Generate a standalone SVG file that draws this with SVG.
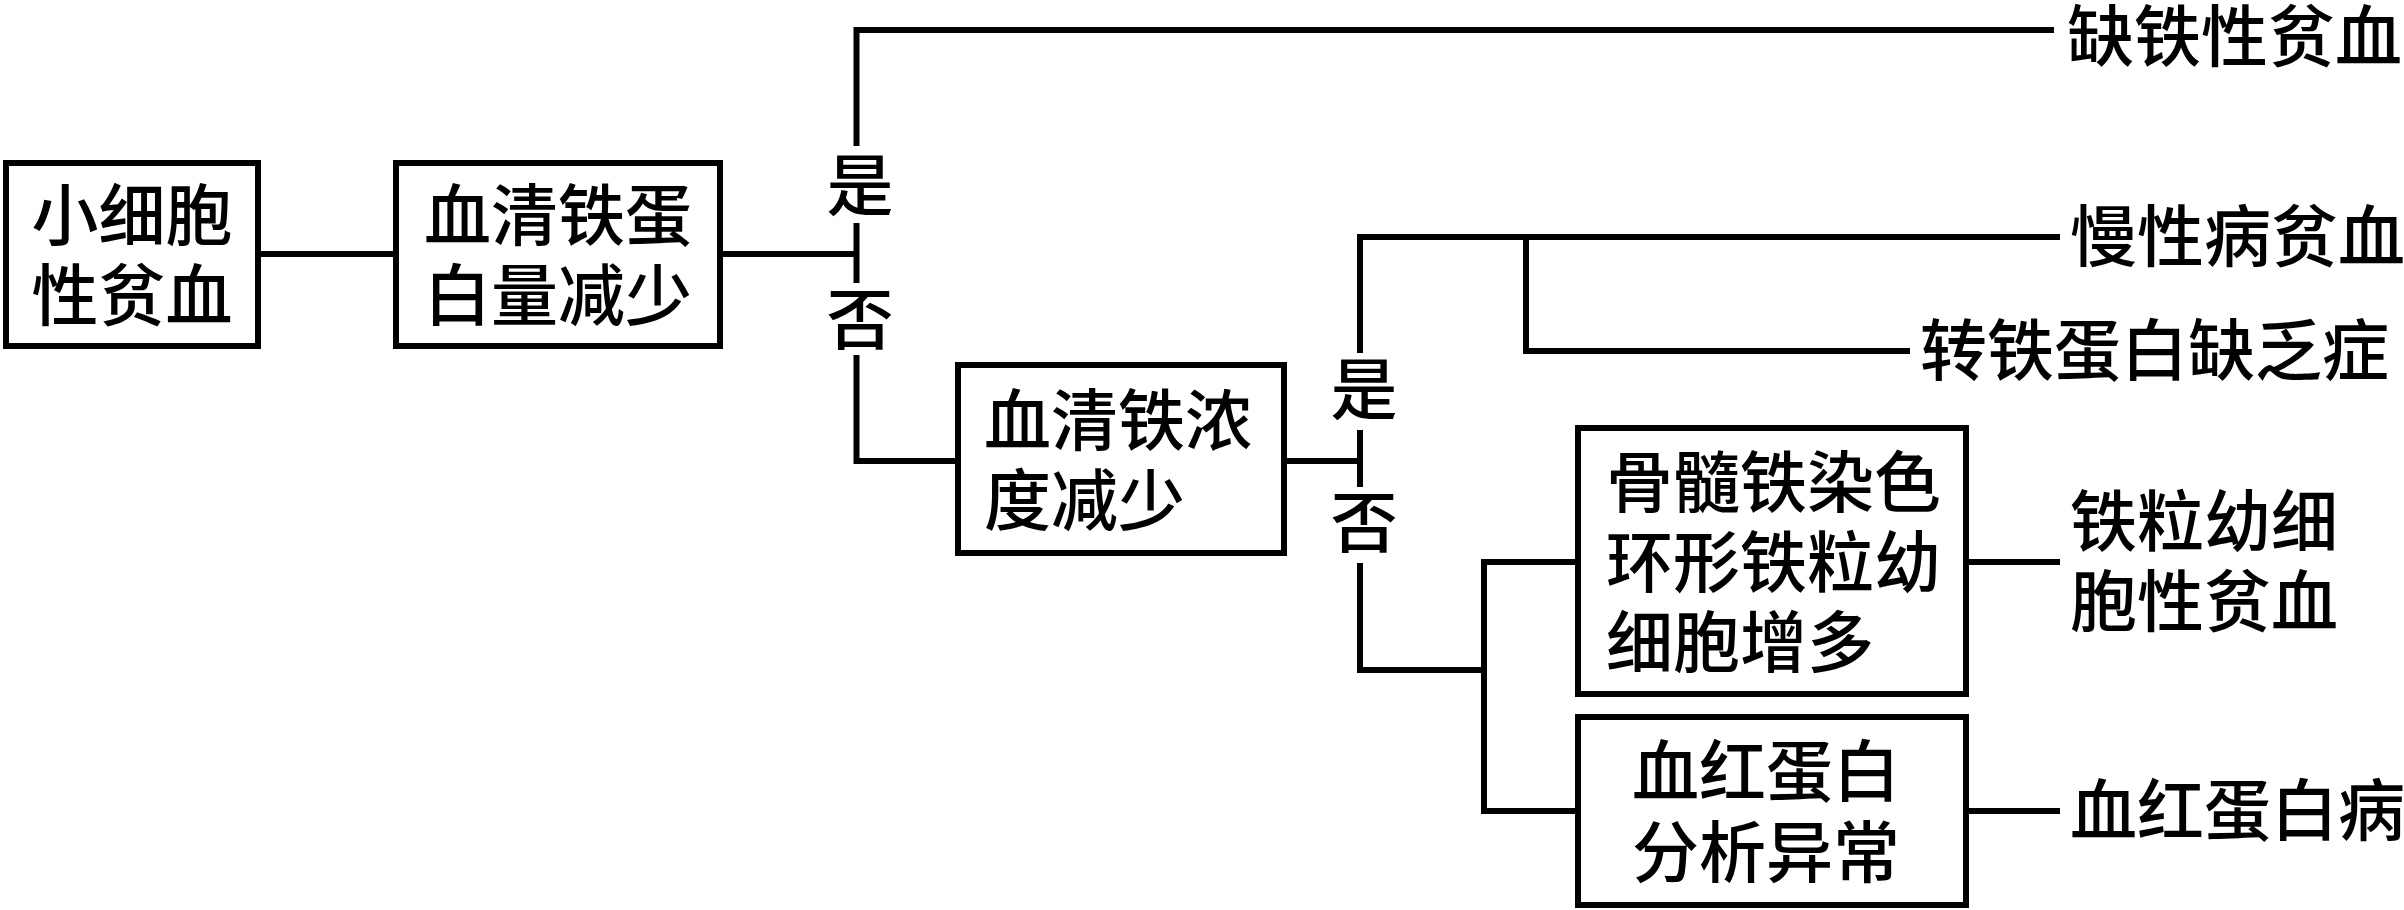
<svg xmlns="http://www.w3.org/2000/svg" width="2404" height="910" viewBox="0 0 2404 910">
<style>
.box{fill:#fff;stroke:#000;stroke-width:6}
.ln{fill:none;stroke:#000;stroke-width:6;stroke-linejoin:miter;stroke-linecap:butt}
text{font-family:"Noto Sans CJK SC","Noto Sans CJK TC",sans-serif;font-size:67px;font-weight:500;fill:#000}
.c{text-anchor:middle}
</style>
<rect width="2404" height="910" fill="#fff"/>
<g id="connectors">
<path class="ln" d="M258,254 H396"/>
<path class="ln" d="M720,254 H856.5"/>
<path class="ln" d="M856.5,146 V30 H2054"/>
<path class="ln" d="M856.5,223 V283"/>
<path class="ln" d="M856.5,355 V461 H958"/>
<path class="ln" d="M1284,461 H1360"/>
<path class="ln" d="M1360,353 V237 H2060"/>
<path class="ln" d="M1360,430 V487"/>
<path class="ln" d="M1360,563 V670 H1484"/>
<path class="ln" d="M1526,237 V351 H1910"/>
<path class="ln" d="M1578,562 H1484 V811 H1578"/>
<path class="ln" d="M1966,562 H2060"/>
<path class="ln" d="M1966,811 H2060"/>
</g>
<g id="n1">
<rect class="box" x="6" y="163" width="252" height="183"/>
<text class="c" x="132" y="240">小细胞<tspan x="132" dy="80">性贫血</tspan></text>
</g>
<g id="n2">
<rect class="box" x="396" y="163" width="324" height="183"/>
<text class="c" x="558" y="240">血清铁蛋<tspan x="558" dy="80">白量减少</tspan></text>
</g>
<g id="d1">
<text class="c" x="860" y="210">是</text>
<text class="c" x="860" y="344">否</text>
</g>
<g id="n3">
<text x="2067" y="61">缺铁性贫血</text>
</g>
<g id="n4">
<rect class="box" x="958" y="365" width="326" height="188"/>
<text x="984" y="445">血清铁浓<tspan x="984" dy="80">度减少</tspan></text>
</g>
<g id="d2">
<text class="c" x="1364" y="414">是</text>
<text class="c" x="1364" y="547">否</text>
</g>
<g id="n5">
<text x="2070" y="261">慢性病贫血</text>
</g>
<g id="n6">
<text x="1920" y="375">转铁蛋白缺乏症</text>
</g>
<g id="n7">
<rect class="box" x="1578" y="428" width="388" height="266"/>
<text x="1606" y="507">骨髓铁染色<tspan x="1606" dy="80">环形铁粒幼</tspan><tspan x="1606" dy="80">细胞增多</tspan></text>
</g>
<g id="n8">
<rect class="box" x="1578" y="717" width="388" height="188"/>
<text class="c" x="1766" y="796">血红蛋白<tspan x="1766" dy="81">分析异常</tspan></text>
</g>
<g id="n9">
<text x="2070" y="546">铁粒幼细<tspan x="2070" dy="80">胞性贫血</tspan></text>
</g>
<g id="n10">
<text x="2070" y="835">血红蛋白病</text>
</g>
</svg>
